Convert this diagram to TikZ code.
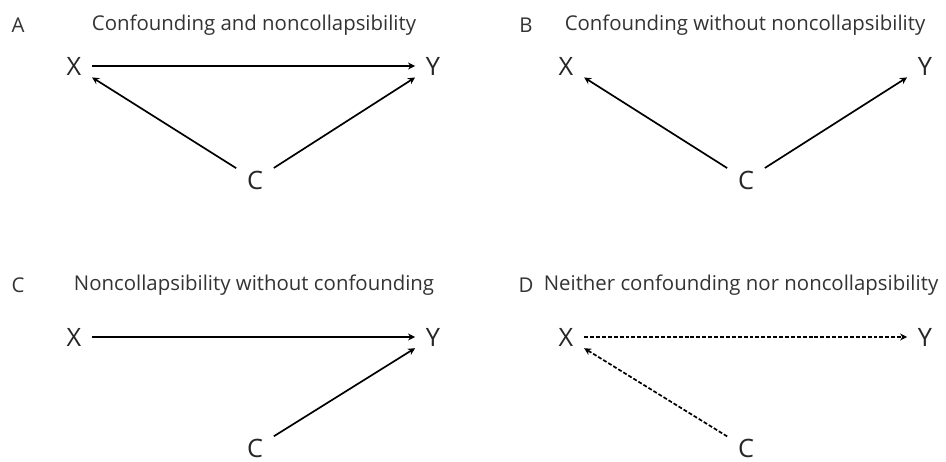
\documentclass[tikz,border=0pt]{standalone}
\usepackage{fontspec}
\setmainfont{Open Sans}
\usetikzlibrary{arrows.meta}
\begin{document}
\begin{tikzpicture}[x=0.025cm,y=-0.025cm,>={Stealth[length=5pt,width=5pt]},line width=1.2pt,
  font=\fontsize{14.5}{17}\selectfont,
  var/.style={inner sep=0.25cm,text=black!85,font=\fontsize{18}{20}\selectfont},
  panel/.style={text=black!80},
  nodep/.style={dash pattern=on 2.8pt off 1.4pt}]
  \useasboundingbox (0,0) rectangle (946,461);

  % A: confounding and noncollapsibility
  \node[panel] (labA) at (18,25) {A};
  \node[panel] (titA) at (254,25) {Confounding and noncollapsibility};
  \node[var] (aX) at (74,66) {X};
  \node[var] (aY) at (433,66) {Y};
  \node[var] (aC) at (255,180) {C};
  \draw[->] (aX) -- (aY);
  \draw[->] (aC) -- (aX);
  \draw[->] (aC) -- (aY);

  % B: confounding only
  \node[panel] (labB) at (526,25) {B};
  \node[panel] (titB) at (745,25) {Confounding without noncollapsibility};
  \node[var] (bX) at (566,66) {X};
  \node[var] (bY) at (925,66) {Y};
  \node[var] (bC) at (746,180) {C};
  \draw[->] (bC) -- (bX);
  \draw[->] (bC) -- (bY);

  % C: noncollapsibility only
  \node[panel] (labC) at (18,285) {C};
  \node[panel] (titC) at (254,285) {Noncollapsibility without confounding};
  \node[var] (cX) at (74,337) {X};
  \node[var] (cY) at (433,337) {Y};
  \node[var] (cC) at (255,448) {C};
  \draw[->] (cX) -- (cY);
  \draw[->] (cC) -- (cY);

  % D: neither
  \node[panel] (labD) at (526,285) {D};
  \node[panel] (titD) at (741,285) {Neither confounding nor noncollapsibility};
  \node[var] (dX) at (566,337) {X};
  \node[var] (dY) at (925,337) {Y};
  \node[var] (dC) at (746,448) {C};
  \draw[->,nodep] (dX) -- (dY);
  \draw[->,nodep] (dC) -- (dX);
\end{tikzpicture}
\end{document}
